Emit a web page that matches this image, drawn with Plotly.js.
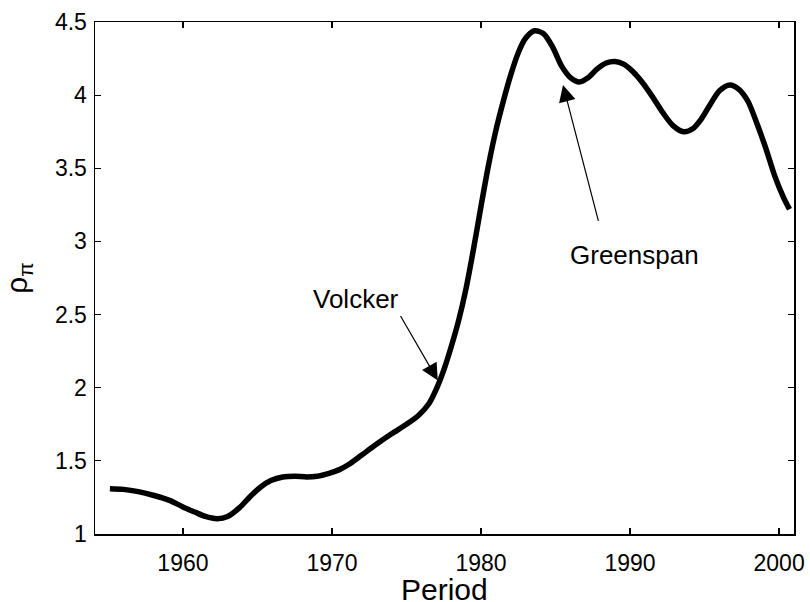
<!DOCTYPE html>
<html>
<head>
<meta charset="utf-8">
<script src="https://cdn.plot.ly/plotly-3.0.1.min.js"></script>
<style>
  html, body { margin: 0; padding: 0; background: #fff; }
  #chart { width: 810px; height: 602px; }
</style>
</head>
<body>
<div id="chart"></div>
<script>
const years = [1955.1, 1956.0, 1957.0, 1958.0, 1959.1, 1960.0, 1960.8, 1961.5, 1962.3, 1963.0,
  1963.8, 1964.5, 1965.2, 1965.9, 1966.7, 1967.5, 1968.3, 1969.0, 1969.8, 1970.5,
  1971.2, 1972.0, 1973.0, 1974.0, 1975.0, 1975.8, 1976.5, 1977.0, 1977.5, 1978.0,
  1978.5, 1979.0, 1979.5, 1980.0, 1980.5, 1981.0, 1981.5, 1982.0, 1982.5, 1983.0,
  1983.6, 1984.2, 1984.8, 1985.4, 1986.0, 1986.6, 1987.2, 1987.8, 1988.4, 1989.0,
  1989.6, 1990.2, 1990.8, 1991.5, 1992.2, 1992.9, 1993.6, 1994.2, 1994.8, 1995.4,
  1996.0, 1996.7, 1997.3, 1997.9, 1998.5, 1999.1, 1999.7, 2000.3, 2000.7];
const rhoPi = [1.31, 1.305, 1.29, 1.265, 1.23, 1.185, 1.15, 1.12, 1.105, 1.12,
  1.18, 1.255, 1.32, 1.365, 1.39, 1.395, 1.39, 1.395, 1.415, 1.44,
  1.48, 1.54, 1.615, 1.685, 1.75, 1.81, 1.89, 1.99, 2.12, 2.28,
  2.46, 2.68, 2.95, 3.24, 3.52, 3.76, 3.96, 4.14, 4.29, 4.39,
  4.44, 4.42, 4.33, 4.20, 4.12, 4.09, 4.12, 4.18, 4.22, 4.23,
  4.21, 4.16, 4.09, 3.99, 3.88, 3.79, 3.75, 3.77, 3.84, 3.94,
  4.03, 4.07, 4.04, 3.96, 3.81, 3.64, 3.45, 3.30, 3.22];
const xTicks = [1960, 1970, 1980, 1990, 2000];
const yTicks = [1, 1.5, 2, 2.5, 3, 3.5, 4, 4.5];
const yTickLabels = ['1', '1.5', '2', '2.5', '3', '3.5', '4', '4.5'];
const xTitle = 'Period';
const yTitle = 'ρ<sub>π</sub>';

const FONT = 'Liberation Sans, Arial, sans-serif';

const trace = {
  x: years, y: rhoPi, type: 'scatter', mode: 'lines',
  line: { color: '#000', width: 5.5, shape: 'spline', smoothing: 0.8 },
  hoverinfo: 'skip'
};

const layout = {
  width: 810, height: 602,
  margin: { l: 95, r: 16, t: 22, b: 68 },
  paper_bgcolor: '#fff', plot_bgcolor: '#fff',
  showlegend: false,
  font: { family: FONT, color: '#000', size: 23 },
  xaxis: {
    range: [1954.1, 2001.0], tickvals: xTicks, ticktext: xTicks.map(String),
    ticks: 'inside', ticklen: 6, tickwidth: 1.2, tickcolor: '#000',
    showline: true, linecolor: '#000', linewidth: 1.5, mirror: 'ticks',
    showgrid: false, zeroline: false,
    tickfont: { family: FONT, size: 23, color: '#000' },
    ticklabelstandoff: 8
  },
  yaxis: {
    range: [1, 4.5], tickvals: yTicks, ticktext: yTickLabels,
    ticks: 'inside', ticklen: 6, tickwidth: 1.2, tickcolor: '#000',
    showline: true, linecolor: '#000', linewidth: 1.5, mirror: 'ticks',
    showgrid: false, zeroline: false,
    tickfont: { family: FONT, size: 23, color: '#000' },
    ticklabelstandoff: 2,
    title: { text: yTitle, font: { family: FONT, size: 30, color: '#000' }, standoff: 18 }
  },
  annotations: [
    { text: xTitle, x: 0.5, y: -0.108, xref: 'paper', yref: 'paper',
      showarrow: false, xanchor: 'center', yanchor: 'middle',
      font: { family: FONT, size: 30, color: '#000' } },
    { text: 'Volcker', x: 1977.1, y: 2.05, xref: 'x', yref: 'y',
      ax: 1974.6, ay: 2.49, axref: 'x', ayref: 'y',
      xanchor: 'right', yanchor: 'bottom',
      showarrow: true, arrowhead: 2, arrowsize: 2.8, arrowwidth: 1.2, arrowcolor: '#000',
      font: { family: FONT, size: 26, color: '#000' } },
    { text: '', x: 1985.5, y: 4.07, xref: 'x', yref: 'y',
      ax: 1987.9, ay: 3.13, axref: 'x', ayref: 'y',
      showarrow: true, arrowhead: 2, arrowsize: 2.8, arrowwidth: 1.2, arrowcolor: '#000' },
    { text: 'Greenspan', x: 1990.3, y: 2.91, xref: 'x', yref: 'y',
      showarrow: false, xanchor: 'center', yanchor: 'middle',
      font: { family: FONT, size: 26, color: '#000' } }
  ]
};

Plotly.newPlot('chart', [trace], layout, { staticPlot: true, displayModeBar: false });
</script>
</body>
</html>
